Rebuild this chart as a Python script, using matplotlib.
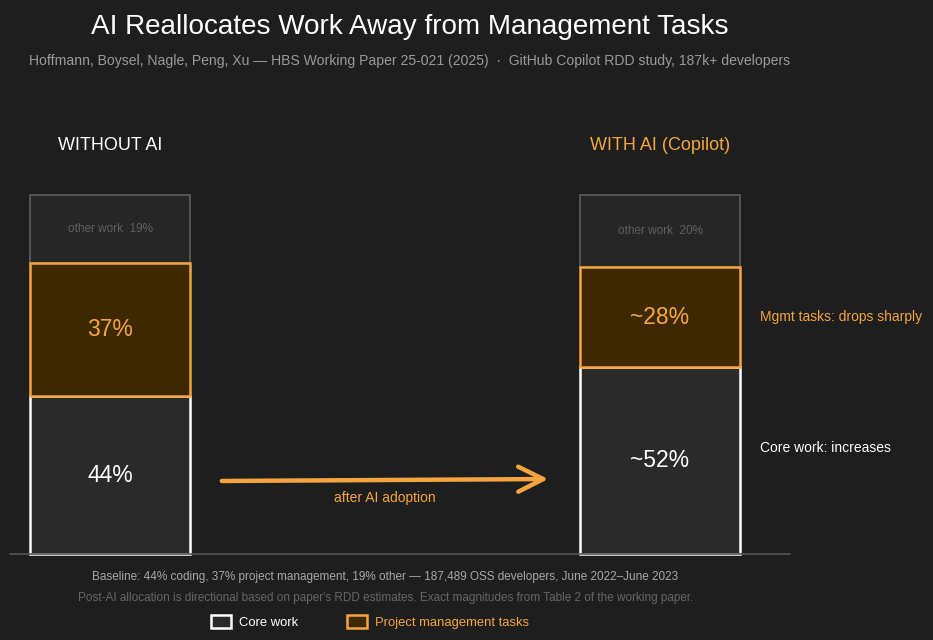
import matplotlib.pyplot as plt
from matplotlib.patches import Patch, FancyArrowPatch

plt.rcParams["font.family"] = ["Liberation Sans", "DejaVu Sans"]

# data (percent of work time)
groups = ["WITHOUT AI", "WITH AI (Copilot)"]
core = [44, 52]
mgmt = [37, 28]
other = [19, 20]
core_labels = ["44%", "~52%"]
mgmt_labels = ["37%", "~28%"]

BG = "#1e1e1e"
ORANGE = "#f5a540"
W, H = 933, 640


def px(x, y):
    # pixel position (from top-left) -> figure fraction
    return (x / W, 1 - y / H)


fig = plt.figure(figsize=(W / 100, H / 100), dpi=100, facecolor=BG)
ax = fig.add_axes([0, 0, 1, 1])
ax.set_facecolor(BG)
# x in pixel units, y in percent; baseline at pixel 554, 3.59 px per percent
scale = 3.59
ax.set_xlim(0, W)
ax.set_ylim((554 - H) / scale, 554 / scale)
ax.axis("off")

xs = [110, 660]
bw = 160
ax.bar(xs, core, width=bw, color="#2a2a2a", edgecolor="white", linewidth=1.8, zorder=3)
ax.bar(xs, mgmt, width=bw, bottom=core, color="#3d2800", edgecolor=ORANGE,
       linewidth=1.8, zorder=3)
ax.bar(xs, other, width=bw, bottom=[c + m for c, m in zip(core, mgmt)],
       color="#262626", edgecolor="#555555", linewidth=1.4, zorder=2)
ax.plot([10, 790], [0, 0], color="#555555", lw=1.2, zorder=4)

for i, x in enumerate(xs):
    ax.text(x, core[i] / 2, core_labels[i], color="white", fontsize=16.5,
            ha="center", va="center", zorder=5)
    ax.text(x, core[i] + mgmt[i] / 2, mgmt_labels[i], color=ORANGE,
            fontsize=16.5, ha="center", va="center", zorder=5)
    ax.text(x, core[i] + mgmt[i] + other[i] / 2, f"other work  {other[i]}%",
            color="#606060", fontsize=8.5, ha="center", va="center", zorder=5)

# headers
fig.text(*px(110, 145), groups[0], color="white", fontsize=13, ha="center", va="center")
fig.text(*px(660, 145), groups[1], color=ORANGE, fontsize=13, ha="center", va="center")

# side notes
ax.text(760, core[1] + mgmt[1] / 2, "Mgmt tasks: drops sharply", color=ORANGE,
        fontsize=10, ha="left", va="center")
ax.text(760, (554 - 448) / scale, "Core work: increases", color="white",
        fontsize=10, ha="left", va="center")

# arrow
arrow = FancyArrowPatch(px(219, 481), px(551, 479), transform=fig.transFigure,
                        arrowstyle="->,head_length=0.9,head_width=0.45",
                        color=ORANGE, lw=3.2, mutation_scale=20,
                        capstyle="round", joinstyle="round")
fig.patches.append(arrow)
fig.text(*px(385, 498), "after AI adoption", color=ORANGE, fontsize=10,
         ha="center", va="center")

# title block
fig.text(*px(410, 27), "AI Reallocates Work Away from Management Tasks", color="white",
         fontsize=20.1, ha="center", va="center")
fig.text(*px(410, 61),
         "Hoffmann, Boysel, Nagle, Peng, Xu \u2014 HBS Working Paper 25-021 (2025)  \u00b7  "
         "GitHub Copilot RDD study, 187k+ developers",
         color="#9a9a9a", fontsize=10.1, ha="center", va="center")

# footer
fig.text(*px(385, 577),
         "Baseline: 44% coding, 37% project management, 19% other \u2014 187,489 OSS developers, "
         "June 2022\u2013June 2023",
         color="#a8a8a8", fontsize=8.5, ha="center", va="center")
fig.text(*px(386, 598),
         "Post-AI allocation is directional based on paper's RDD estimates. "
         "Exact magnitudes from Table 2 of the working paper.",
         color="#666666", fontsize=8.5, ha="center", va="center")

handles = [Patch(facecolor="#2a2a2a", edgecolor="white", linewidth=1.8, label="Core work"),
           Patch(facecolor="#3d2800", edgecolor=ORANGE, linewidth=1.8,
                 label="Project management tasks")]
fig.legend(handles=handles, loc="center", bbox_to_anchor=px(370, 622), ncol=2,
           frameon=False, fontsize=9.4, labelcolor=["white", ORANGE],
           handlelength=1.5, handleheight=1.1, handletextpad=0.6, columnspacing=3.8)

fig.savefig("out.png", dpi=100, facecolor=BG)
